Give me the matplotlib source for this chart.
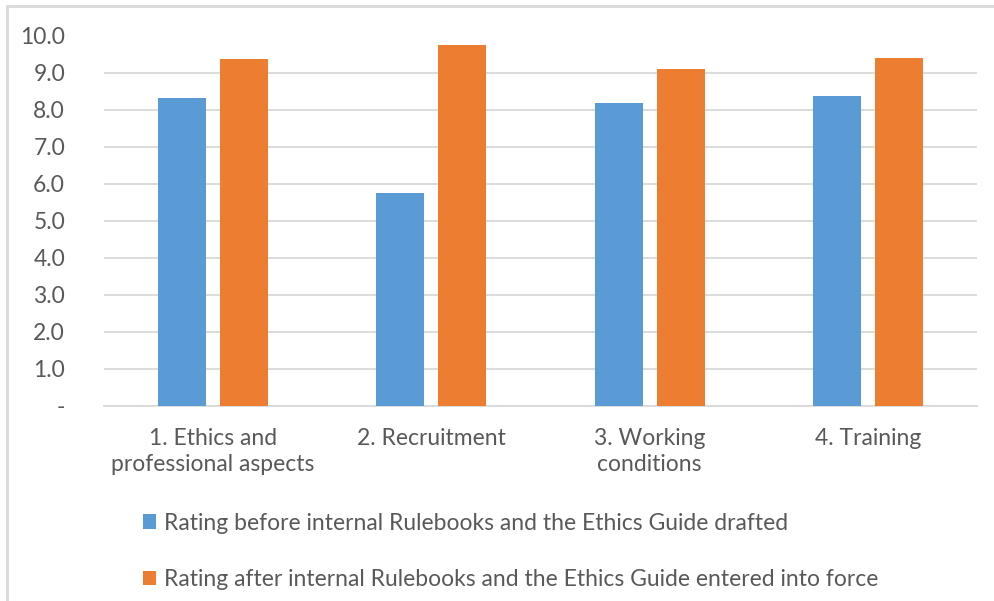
import matplotlib.pyplot as plt
import numpy as np
from matplotlib.patches import Rectangle

categories = ["1. Ethics and\nprofessional aspects", "2. Recruitment",
              "3. Working\nconditions", "4. Training"]
before = [8.30, 5.75, 8.17, 8.38]
after = [9.36, 9.74, 9.10, 9.38]
labels = ["Rating before internal Rulebooks and the Ethics Guide drafted",
          "Rating after internal Rulebooks and the Ethics Guide entered into force"]
yticks = [0, 1, 2, 3, 4, 5, 6, 7, 8, 9, 10]
ytick_labels = ["-"] + ["%.1f" % v for v in yticks[1:]]

plt.rcParams['font.family'] = ['Lato', 'DejaVu Sans']
txt = '#595959'
grid = '#D9D9D9'
fs = 16.5

fig = plt.figure(figsize=(9.94, 6.01), dpi=100)
ax = fig.add_axes([104/994, 1-406/601, (977-104)/994, (406-35.5)/601])

x = np.arange(len(categories))
w = 0.22
ax.bar(x - 0.142, before, w, color='#5B9BD5', label=labels[0], zorder=3)
ax.bar(x + 0.142, after, w, color='#ED7D31', label=labels[1], zorder=3)

ax.set_xlim(-0.5, len(categories) - 0.5)
ax.set_ylim(0, 10)
ax.set_yticks(yticks)
ax.set_yticklabels(ytick_labels)
ax.set_xticks(x)
ax.set_xticklabels(categories, linespacing=1.3)
ax.yaxis.grid(True, color=grid, lw=1.3, zorder=0)
for s in ['top', 'right', 'left']:
    ax.spines[s].set_visible(False)
ax.spines['bottom'].set_color(grid)
ax.spines['bottom'].set_linewidth(1.3)
ax.tick_params(axis='both', length=0, colors=txt, labelsize=fs)
ax.tick_params(axis='y', pad=28)
ax.tick_params(axis='x', pad=16)

fig.legend(loc='upper left', bbox_to_anchor=(122/994, 1-492/601), frameon=False,
           fontsize=fs, labelcolor=txt, handlelength=0.57, handleheight=0.57,
           handletextpad=0.35, labelspacing=1.55)

fig.patches.append(Rectangle((7/994, -0.1), 1.2, 1-6/601+0.1, transform=fig.transFigure,
                             fill=False, edgecolor=grid, lw=2))

fig.savefig("out.png", dpi=100)
